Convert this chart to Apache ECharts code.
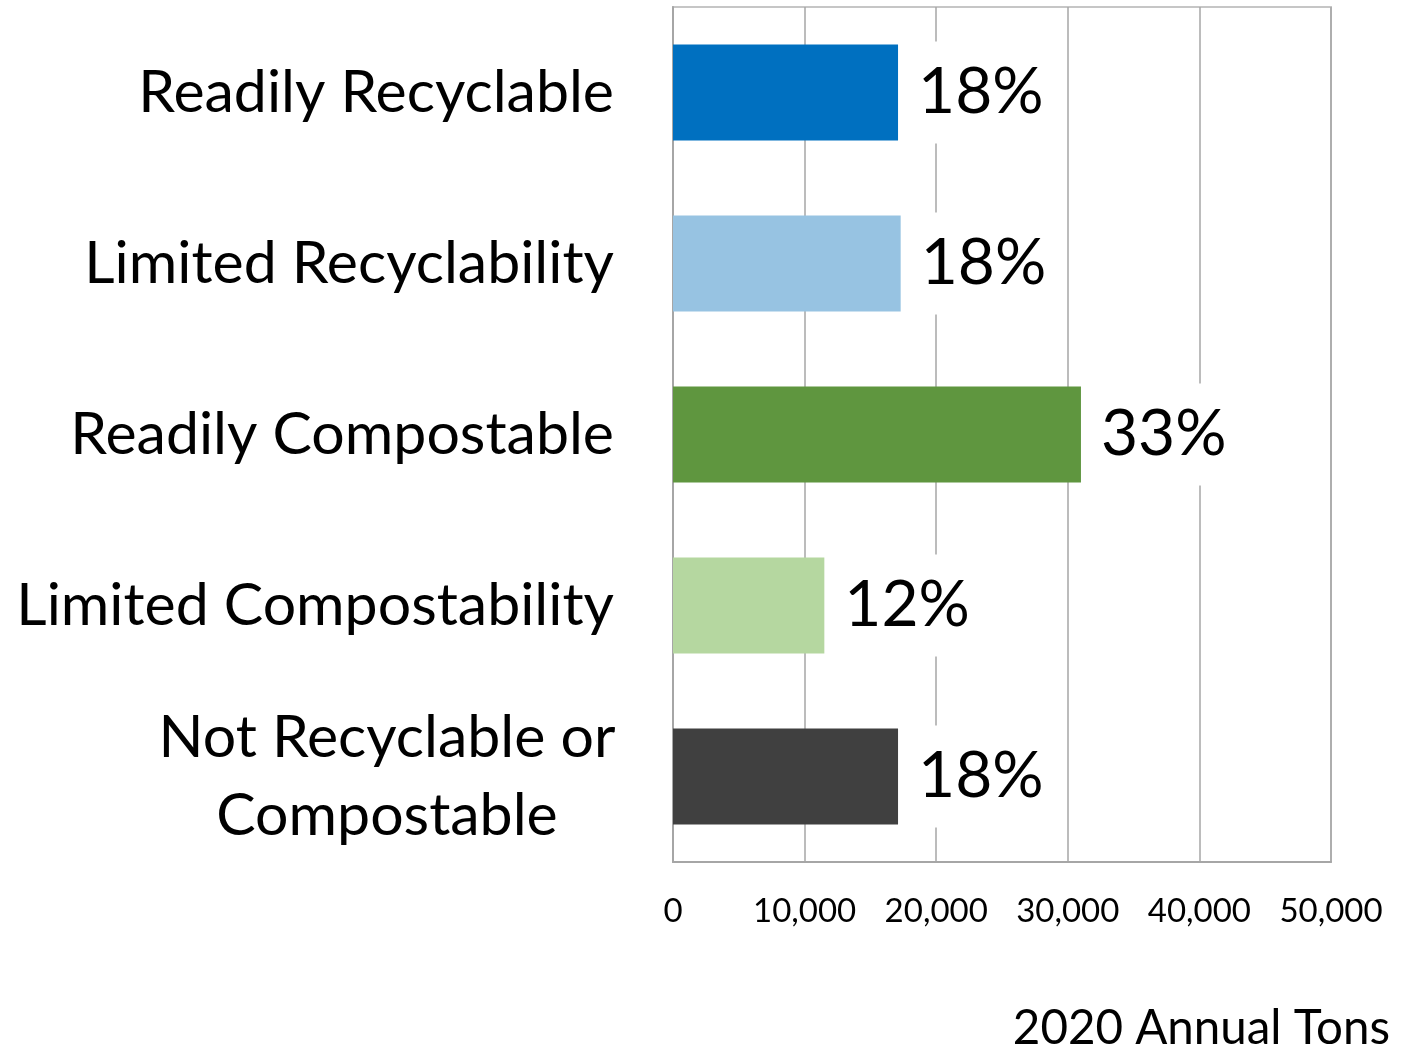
<!DOCTYPE html>
<html><head><meta charset="utf-8">
<script src="https://cdn.jsdelivr.net/npm/echarts@6/dist/echarts.min.js"></script>
<style>html,body{margin:0;padding:0;background:#fff}#c{width:1417px;height:1052px}</style>
</head><body><div id="c"></div>
<script>
const categories = ["Readily Recyclable", "Limited Recyclability", "Readily Compostable", "Limited Compostability", "Not Recyclable or\nCompostable"];
const tons = [17100, 17300, 31000, 11500, 17100];
const shares = ["18%", "18%", "33%", "12%", "18%"];
const colors = ["#0070C0", "#97C3E2", "#5F963F", "#B5D7A0", "#404040"];
const xTicks = [0, 10000, 20000, 30000, 40000, 50000];
const axisTitle = "2020 Annual Tons";

const FONT = "Lato";
const chart = echarts.init(document.getElementById('c'));
chart.setOption({
  animation: false,
  backgroundColor: '#fff',
  title: { text: axisTitle, right: 22, bottom: -6, textStyle: { fontFamily: FONT, fontWeight: 'normal', fontSize: 47.5, color: '#000' } },
  grid: { left: 673, right: 86, top: 7, bottom: 190, show: true, borderColor: '#c6c6c6', borderWidth: 2 },
  xAxis: {
    type: 'value', min: xTicks[0], max: xTicks[xTicks.length - 1], interval: xTicks[1] - xTicks[0],
    axisLine: { show: true, lineStyle: { color: '#a6a6a6', width: 2 } },
    axisTick: { show: false },
    splitLine: { show: true, lineStyle: { color: '#a6a6a6', width: 1.5 } },
    axisLabel: { fontFamily: FONT, fontSize: 33, color: '#000', margin: 33,
      formatter: v => v.toLocaleString('en-US') }
  },
  yAxis: {
    type: 'category', inverse: true, data: categories,
    axisLine: { show: true, lineStyle: { color: '#a6a6a6', width: 2 } },
    axisTick: { show: false },
    axisLabel: { fontFamily: FONT, fontSize: 59, color: '#000', margin: 59, lineHeight: 78,
      formatter: v => v.indexOf('\n') >= 0 ? v.split('\n').map(s => '{c|' + s + '}').join('\n') : v,
      rich: { c: { fontFamily: FONT, fontSize: 59, color: '#000', width: 454, align: 'center', lineHeight: 78 } } }
  },
  series: [{
    type: 'bar', barCategoryGap: '44%',
    data: tons.map((v, i) => ({ value: v, itemStyle: { color: colors[i] } })),
    label: { show: true, position: 'right', distance: 14, fontFamily: FONT, fontSize: 64, color: '#000',
      backgroundColor: '#fff', padding: [22, 6, 16, 6],
      formatter: p => shares[p.dataIndex] }
  }]
});
</script></body></html>
